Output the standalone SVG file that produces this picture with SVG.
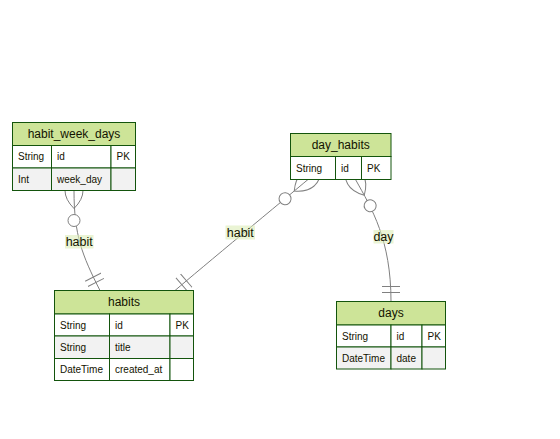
<svg xmlns="http://www.w3.org/2000/svg" width="560" height="439" viewBox="0 0 560 439">
<style>
.hdr{fill:#cde498;stroke:#13540c;stroke-width:1}
.odd{fill:#ffffff;stroke:#13540c;stroke-width:1}
.even{fill:#f2f2f2;stroke:#13540c;stroke-width:1}
.ht{font-family:"Liberation Sans",Arial,sans-serif;font-size:12px;fill:#131300;text-anchor:middle;dominant-baseline:central}
.at{font-family:"Liberation Sans",Arial,sans-serif;font-size:10px;fill:#131300;dominant-baseline:central}
.rel{fill:none;stroke:#808080;stroke-width:1}
.lb{fill:#dcecb8;opacity:0.6}
.lt{font-family:"Liberation Sans",Arial,sans-serif;font-size:12.5px;fill:#131300;text-anchor:middle;dominant-baseline:central}
</style>
<defs>
<marker id="zeroOrMoreStart" markerUnits="userSpaceOnUse" refX="18" refY="18" markerWidth="57" markerHeight="36" orient="auto">
<circle cx="48" cy="18" r="6" fill="#ffffff" stroke="#808080" stroke-width="1"/>
<path d="M0,18 Q18,0 36,18 Q18,36 0,18" fill="none" stroke="#808080" stroke-width="1"/>
</marker>
<marker id="onlyOneEnd" markerUnits="userSpaceOnUse" refX="18" refY="9" markerWidth="18" markerHeight="18" orient="auto">
<path d="M3,0 L3,18 M9,0 L9,18" fill="none" stroke="#808080" stroke-width="1"/>
</marker>
</defs>
<g id="connectors">
<path class="rel" d="M74,190.5 C74,235 82,255 100,290.5" marker-start="url(#zeroOrMoreStart)" marker-end="url(#onlyOneEnd)"/>
<path class="rel" d="M308,179.5 C286,198 200,269 175,290.5" marker-start="url(#zeroOrMoreStart)" marker-end="url(#onlyOneEnd)"/>
<path class="rel" d="M355.5,179.5 C372,209 391,240 391,301.5" marker-start="url(#zeroOrMoreStart)" marker-end="url(#onlyOneEnd)"/>
<rect class="lb" x="65" y="235" width="28.5" height="13.5"/>
<text class="lt" x="79.2" y="241.7">habit</text>
<rect class="lb" x="225.5" y="225.5" width="29.5" height="14"/>
<text class="lt" x="240.3" y="232.5">habit</text>
<rect class="lb" x="373.5" y="230" width="20" height="13.5"/>
<text class="lt" x="383.5" y="236.7">day</text>
</g>
<g id="habit_week_days">
<rect class="hdr" x="12.5" y="122.5" width="123" height="23"/>
<text class="ht" x="74" y="134">habit_week_days</text>
<rect class="odd" x="12.5" y="145.5" width="39" height="22.5"/>
<rect class="odd" x="51.5" y="145.5" width="59.5" height="22.5"/>
<rect class="odd" x="111" y="145.5" width="24.5" height="22.5"/>
<rect class="even" x="12.5" y="168" width="39" height="22.5"/>
<rect class="even" x="51.5" y="168" width="59.5" height="22.5"/>
<rect class="even" x="111" y="168" width="24.5" height="22.5"/>
<text class="at" x="18" y="156.8">String</text>
<text class="at" x="57" y="156.8">id</text>
<text class="at" x="116.5" y="156.8">PK</text>
<text class="at" x="18" y="179.3">Int</text>
<text class="at" x="57" y="179.3">week_day</text>
</g>
<g id="habits">
<rect class="hdr" x="54.5" y="290.5" width="139" height="23.5"/>
<text class="ht" x="124" y="302.2">habits</text>
<rect class="odd" x="54.5" y="314" width="55" height="22"/>
<rect class="odd" x="109.5" y="314" width="60.5" height="22"/>
<rect class="odd" x="170" y="314" width="23.5" height="22"/>
<rect class="even" x="54.5" y="336" width="55" height="22.5"/>
<rect class="even" x="109.5" y="336" width="60.5" height="22.5"/>
<rect class="even" x="170" y="336" width="23.5" height="22.5"/>
<rect class="odd" x="54.5" y="358.5" width="55" height="22"/>
<rect class="odd" x="109.5" y="358.5" width="60.5" height="22"/>
<rect class="odd" x="170" y="358.5" width="23.5" height="22"/>
<text class="at" x="60" y="325">String</text>
<text class="at" x="115" y="325">id</text>
<text class="at" x="175.5" y="325">PK</text>
<text class="at" x="60" y="347.2">String</text>
<text class="at" x="115" y="347.2">title</text>
<text class="at" x="60" y="369.5">DateTime</text>
<text class="at" x="115" y="369.5">created_at</text>
</g>
<g id="day_habits">
<rect class="hdr" x="290.5" y="133.5" width="100.5" height="23"/>
<text class="ht" x="340.7" y="145">day_habits</text>
<rect class="odd" x="290.5" y="156.5" width="45" height="23"/>
<rect class="odd" x="335.5" y="156.5" width="26" height="23"/>
<rect class="odd" x="361.5" y="156.5" width="29.5" height="23"/>
<text class="at" x="296" y="168">String</text>
<text class="at" x="341" y="168">id</text>
<text class="at" x="367" y="168">PK</text>
</g>
<g id="days">
<rect class="hdr" x="336.5" y="301.5" width="109" height="23.5"/>
<text class="ht" x="391" y="313.2">days</text>
<rect class="odd" x="336.5" y="325" width="54.5" height="22"/>
<rect class="odd" x="391" y="325" width="31" height="22"/>
<rect class="odd" x="422" y="325" width="23.5" height="22"/>
<rect class="even" x="336.5" y="347" width="54.5" height="22"/>
<rect class="even" x="391" y="347" width="31" height="22"/>
<rect class="even" x="422" y="347" width="23.5" height="22"/>
<text class="at" x="342" y="336">String</text>
<text class="at" x="396.5" y="336">id</text>
<text class="at" x="427.5" y="336">PK</text>
<text class="at" x="342" y="358">DateTime</text>
<text class="at" x="396.5" y="358">date</text>
</g>
</svg>
